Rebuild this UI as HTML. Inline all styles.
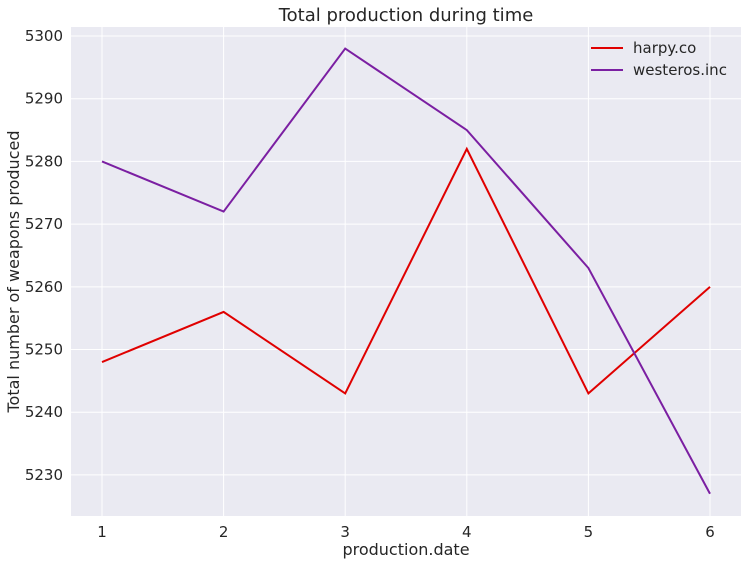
<!DOCTYPE html>
<html><head><meta charset="utf-8"><style>
body{margin:0;background:#fff;font-family:"Liberation Sans","DejaVu Sans",sans-serif;}
svg text{font-family:"DejaVu Sans","Liberation Sans",sans-serif;fill:#262626;}
</style></head><body>
<svg id="chart" width="748" height="564"></svg>
<script>
const dates=[1,2,3,4,5,6];
const harpy=[5248,5256,5243,5282,5243,5260];
const westeros=[5280,5272,5298,5285,5263,5227];
const yTicks=[5230,5240,5250,5260,5270,5280,5290,5300];
const xTicks=[1,2,3,4,5,6];
const L=71,R=741,T=27,B=516;
const xMin=0.745,xMax=6.255,yMin=5223.45,yMax=5301.44;
const xs=v=>L+(v-xMin)/(xMax-xMin)*(R-L);
const ys=v=>B-(v-yMin)/(yMax-yMin)*(B-T);
const NS='http://www.w3.org/2000/svg';
const svg=document.getElementById('chart');
function mk(t,a,p){const e=document.createElementNS(NS,t);for(const k in a)e.setAttribute(k,a[k]);(p||svg).appendChild(e);return e;}
const bg=mk('rect',{x:L,y:T,width:R-L,height:B-T,fill:'#eaeaf2'});


yTicks.forEach(v=>{
 const g=mk('line',{x1:L,x2:R,y1:ys(v),y2:ys(v),stroke:'#fff','stroke-width':1});
 
 
 const t=mk('text',{x:L-8,y:ys(v)+5,'text-anchor':'end','font-size':15});
 t.textContent=v;
 
 
});
xTicks.forEach(v=>{
 const g=mk('line',{x1:xs(v),x2:xs(v),y1:T,y2:B,stroke:'#fff','stroke-width':1});
 
 
 const t=mk('text',{x:xs(v),y:B+21,'text-anchor':'middle','font-size':15});
 t.textContent=v;
 
 
});
function series(vals,color,name){
 const p=mk('polyline',{points:vals.map((v,i)=>xs(dates[i])+','+ys(v)).join(' '),fill:'none',stroke:color,'stroke-width':2});
 
 
}
series(harpy,'#e00000','harpy-line');
series(westeros,'#7b1fa2','westeros-line');
const title=mk('text',{x:(L+R)/2,y:21,'text-anchor':'middle','font-size':18});
title.textContent='Total production during time';


const xl=mk('text',{x:(L+R)/2,y:555,'text-anchor':'middle','font-size':16});
xl.textContent='production.date';


const yl=mk('text',{x:0,y:0,'text-anchor':'middle','font-size':16,transform:'translate(19,'+((T+B)/2)+') rotate(-90)'});
yl.textContent='Total number of weapons produced';


[['harpy.co','#e00000',48],['westeros.inc','#7b1fa2',70]].forEach(([n,c,y])=>{
 const g=mk('g',{});
 
 
 mk('line',{x1:591,x2:623,y1:y,y2:y,stroke:c,'stroke-width':2},g);
 const t=mk('text',{x:633,y:y+5,'font-size':15},g);
 t.textContent=n;
});
</script>
</body></html>
